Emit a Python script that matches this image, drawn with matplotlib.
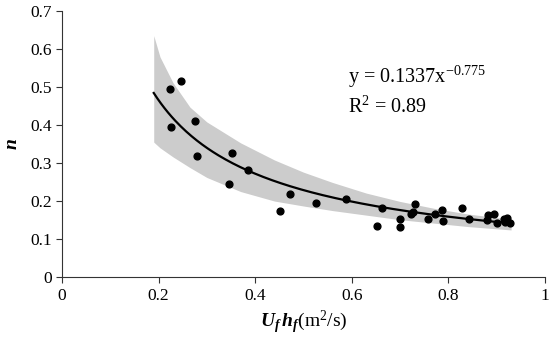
import numpy as np
import matplotlib
matplotlib.use('Agg')
import matplotlib.pyplot as plt

plt.rcParams['font.family'] = ['Liberation Serif', 'DejaVu Serif']
plt.rcParams['mathtext.fontset'] = 'custom'
plt.rcParams['mathtext.rm'] = 'Liberation Serif'
plt.rcParams['mathtext.it'] = 'Liberation Serif:italic'
plt.rcParams['mathtext.bf'] = 'Liberation Serif:bold:italic'

# Observed points (Uf*hf, n)
x_obs = [0.224, 0.246, 0.225, 0.275, 0.279, 0.352, 0.346, 0.385, 0.451, 0.472,
         0.526, 0.588, 0.652, 0.663, 0.700, 0.700, 0.722, 0.727, 0.732, 0.758,
         0.772, 0.787, 0.789, 0.828, 0.843, 0.880, 0.882, 0.894, 0.901, 0.915,
         0.921, 0.928, 0.917]
n_obs = [0.494, 0.515, 0.394, 0.410, 0.318, 0.326, 0.245, 0.282, 0.174, 0.218,
         0.194, 0.205, 0.134, 0.182, 0.153, 0.131, 0.165, 0.172, 0.191, 0.153,
         0.165, 0.176, 0.148, 0.182, 0.153, 0.150, 0.163, 0.166, 0.142, 0.153,
         0.155, 0.142, 0.145]

# Power-law fit shown on the chart
coef_a = 0.1337
coef_b = -0.775
r2 = 0.89
fit_range = (0.19, 0.93)

# Shaded band edges
x_band = [0.19, 0.203, 0.23, 0.265, 0.30, 0.37, 0.44, 0.50, 0.56, 0.63, 0.70, 0.77, 0.84, 0.93]
band_hi = [0.635, 0.579, 0.511, 0.447, 0.408, 0.353, 0.308, 0.276, 0.249, 0.221, 0.199, 0.181, 0.166, 0.152]
band_lo = [0.355, 0.340, 0.316, 0.288, 0.262, 0.225, 0.200, 0.187, 0.175, 0.163, 0.151, 0.142, 0.133, 0.124]

fig = plt.figure(figsize=(5.5, 3.53), dpi=100)
ax = fig.add_axes([0.1127, 0.215, 0.878, 0.754])

ax.fill_between(x_band, band_lo, band_hi, color='#cccccc', linewidth=0)
xf = np.linspace(fit_range[0], fit_range[1], 200)
ax.plot(xf, coef_a * xf ** coef_b, color='black', lw=1.6)
ax.scatter(x_obs, n_obs, s=24, color='black', zorder=3)

ax.text(0.592, 0.511, r'y = %.4fx$^{%.3f}$' % (coef_a, coef_b), fontsize=14.5, va='baseline')
ax.text(0.592, 0.432, r'R$^2$ = %.2f' % r2, fontsize=14.5, va='baseline')

ax.set_xlim(0, 1)
ax.set_ylim(0, 0.7)
ax.set_xticks([0, 0.2, 0.4, 0.6, 0.8, 1])
ax.set_xticklabels(['0', '0.2', '0.4', '0.6', '0.8', '1'])
ax.set_yticks(np.arange(0, 0.71, 0.1))
ax.set_yticklabels(['0', '0.1', '0.2', '0.3', '0.4', '0.5', '0.6', '0.7'])
ax.tick_params(labelsize=12.5, direction='out', length=4, width=0.8, color='#333333')
for s in ['top', 'right']:
    ax.spines[s].set_visible(False)
for s in ['left', 'bottom']:
    ax.spines[s].set_linewidth(0.8)
    ax.spines[s].set_color('#333333')

ax.set_ylabel(r'$\mathbf{n}$', fontsize=14)
ax.yaxis.set_label_coords(-0.085, 0.5)
ax.set_xlabel(r'$\mathbf{U_f\,h_f}$(m$^2$/s)', fontsize=14, labelpad=4)

fig.savefig('out.png', dpi=100)
